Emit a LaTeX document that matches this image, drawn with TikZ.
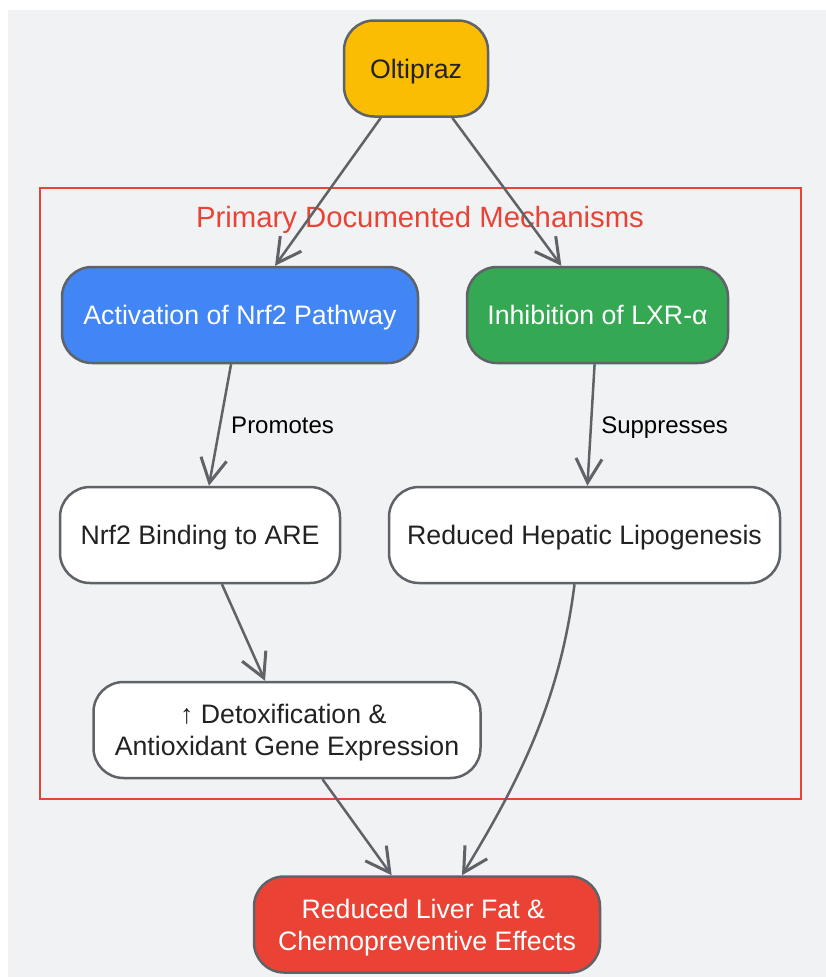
\documentclass[tikz,border=0pt]{standalone}
\usepackage{fontspec}
\setmainfont{Liberation Sans}
\usetikzlibrary{arrows.meta}
\definecolor{bggray}{HTML}{F1F2F4}
\definecolor{edgegray}{HTML}{5F6368}
\definecolor{gyellow}{HTML}{FBBC04}
\definecolor{gblue}{HTML}{4285F4}
\definecolor{ggreen}{HTML}{34A853}
\definecolor{gred}{HTML}{EA4335}
\definecolor{txtdark}{HTML}{222222}
\newcommand{\twolines}[2]{\begin{tabular}[b]{@{}c@{}}#1\kern7.4pt\\#2\end{tabular}}
\tikzset{
  box/.style={draw=edgegray, line width=2.5pt, rounded corners=30pt, inner sep=0pt,
    minimum height=96pt, font=\fontsize{26.7}{32}\selectfont, text=txtdark,
    text height=19pt, text depth=0pt},
  tallbox/.style={text height=51pt, text depth=0pt},
  whitebox/.style={box, fill=white},
  edge/.style={draw=edgegray, line width=2.5pt, -{Straight Barb[length=24pt,width=26pt,line width=3pt]}},
  lbl/.style={font=\fontsize{24}{28}\selectfont, text=black, inner sep=0pt, anchor=west,
    text height=17pt, text depth=0pt},
}
\begin{document}
\begin{tikzpicture}[x=1pt,y=-1pt]
\useasboundingbox (0,0) rectangle (826,977);
\fill[bggray] (8,10) rectangle (826,977);
% cluster
\draw[gred, line width=2pt] (40,188) rectangle (801,799);
\node[text=gred, font=\fontsize{29.3}{34}\selectfont, inner sep=0pt, text height=21pt, text depth=0pt] (title) at (420,217) {Primary Documented Mechanisms};
% nodes
\node[box, fill=gyellow, minimum width=144pt] (O) at (416,68.5) {Oltipraz};
\node[box, fill=gblue, text=white, minimum width=356pt] (A) at (240,315) {Activation of Nrf2 Pathway};
\node[box, fill=ggreen, text=white, minimum width=261pt] (I) at (597.5,315) {Inhibition of LXR-α};
\node[whitebox, minimum width=280pt] (N) at (200,535) {Nrf2 Binding to ARE};
\node[whitebox, minimum width=391pt] (R) at (584.5,535) {Reduced Hepatic Lipogenesis};
\node[whitebox, tallbox, minimum width=387pt] (D) at (287,730) {\twolines{↑ Detoxification \&}{Antioxidant Gene Expression}};
\node[box, tallbox, fill=gred, text=white, minimum width=346pt] (F) at (427,924.5) {\twolines{Reduced Liver Fat \&}{Chemopreventive Effects}};
% edges
\draw[edge] (O) -- (A);
\draw[edge] (O) -- (I);
\draw[edge] (A) -- node[lbl, xshift=10pt] {Promotes} (N);
\draw[edge] (I) -- node[lbl, xshift=9pt] {Suppresses} (R);
\draw[edge] (N) -- (D);
\draw[edge] (D) -- (F);
\draw[edge] ([xshift=-10pt]R.south) .. controls (560,700) and (520,780) .. ([xshift=35pt]F.north);
\end{tikzpicture}
\end{document}
